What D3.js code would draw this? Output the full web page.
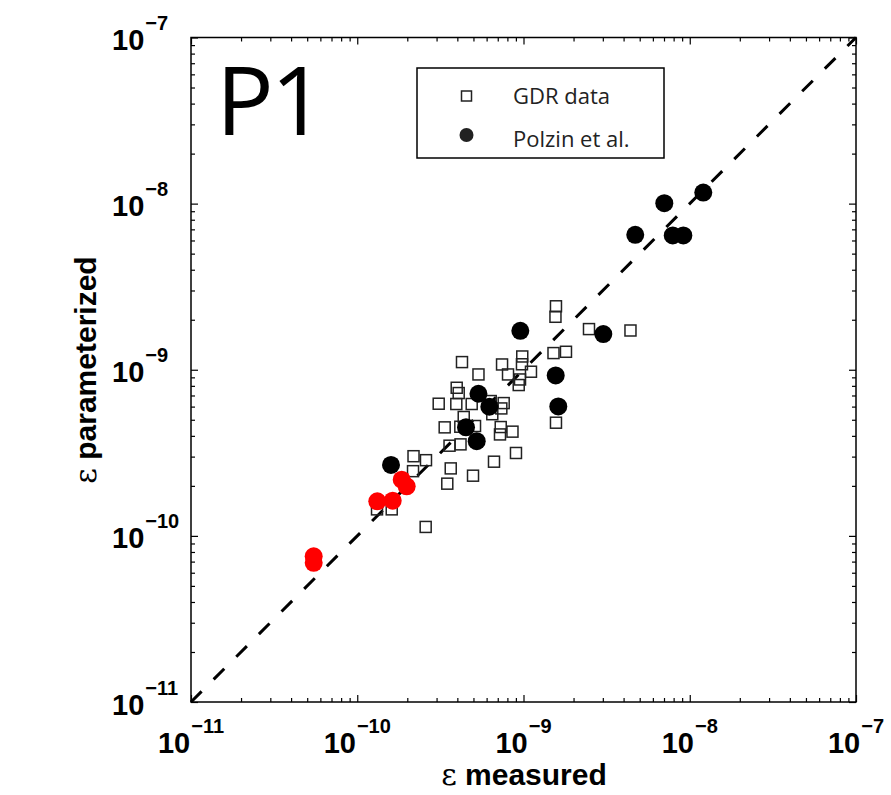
<!DOCTYPE html>
<html>
<head>
<meta charset="utf-8">
<script src="https://cdn.jsdelivr.net/npm/d3@7"></script>
<style>
  html, body { margin: 0; padding: 0; background: #fff; }
  #chart { width: 891px; height: 795px; }
</style>
</head>
<body>
<div id="chart"></div>
<script>
// GDR data (open squares)
const gdrX = [1.568e-9, 1.557e-9, 2.477e-9, 4.40e-9, 1.515e-9, 1.801e-9, 4.266e-10, 5.36e-10, 7.43e-10, 9.83e-10,
    9.79e-10, 8.07e-10, 1.109e-9, 9.53e-10, 9.36e-10, 3.965e-10, 4.076e-10, 3.09e-10, 3.943e-10, 4.88e-10,
    6.35e-10, 7.60e-10, 7.355e-10, 6.49e-10, 4.37e-10, 3.357e-10, 4.168e-10, 5.11e-10, 7.295e-10, 7.22e-10,
    8.585e-10, 1.568e-9, 3.59e-10, 4.18e-10, 9.01e-10, 6.645e-10, 2.18e-10, 2.591e-10, 2.165e-10, 3.65e-10,
    4.97e-10, 3.48e-10, 1.315e-10, 1.612e-10, 2.58e-10];
const gdrY = [2.41e-9, 2.084e-9, 1.757e-9, 1.723e-9, 1.26e-9, 1.283e-9, 1.112e-9, 9.37e-10, 1.076e-9, 1.202e-9,
    1.079e-9, 9.37e-10, 9.73e-10, 8.74e-10, 8.09e-10, 7.79e-10, 7.24e-10, 6.245e-10, 6.22e-10, 6.22e-10,
    6.48e-10, 6.30e-10, 5.85e-10, 5.40e-10, 5.195e-10, 4.50e-10, 4.54e-10, 4.585e-10, 4.52e-10, 4.08e-10,
    4.24e-10, 4.80e-10, 3.49e-10, 3.555e-10, 3.155e-10, 2.796e-10, 3.017e-10, 2.855e-10, 2.452e-10, 2.548e-10,
    2.303e-10, 2.062e-10, 1.444e-10, 1.444e-10, 1.132e-10];

// Polzin et al. (filled black circles)
const polzinX = [1.596e-10, 4.51e-10, 5.23e-10, 5.36e-10, 6.23e-10, 9.57e-10, 1.562e-9, 1.619e-9, 3.02e-9,
    4.70e-9, 7.03e-9, 7.90e-9, 9.15e-9, 1.206e-8];
const polzinY = [2.672e-10, 4.50e-10, 3.715e-10, 7.17e-10, 5.99e-10, 1.716e-9, 9.24e-10, 6.015e-10, 1.639e-9,
    6.49e-9, 1.006e-8, 6.43e-9, 6.43e-9, 1.166e-8];

// red points (not in legend)
const redX = [5.47e-11, 5.47e-11, 1.32e-10, 1.634e-10, 1.851e-10, 1.983e-10];
const redY = [7.53e-11, 6.88e-11, 1.614e-10, 1.63e-10, 2.18e-10, 1.986e-10];

// axes
const decades = [-11, -10, -9, -8, -7];
const domain = [1e-11, 1e-7];
const legendLabels = ["GDR data", "Polzin et al."];
const panelLabel = "P1";

document.addEventListener('DOMContentLoaded', function() {
    const W = 891, H = 795;
    const margin = { top: 37.5, right: 35, bottom: 93, left: 191 };
    const width = W - margin.left - margin.right;
    const height = H - margin.top - margin.bottom;

    const svg = d3.select("#chart")
        .append("svg")
        .attr("width", W)
        .attr("height", H)
        .append("g")
        .attr("transform", `translate(${margin.left},${margin.top})`);

    const x = d3.scaleLog().domain(domain).range([0, width]);
    const y = d3.scaleLog().domain(domain).range([height, 0]);

    const majors = decades.map(d => Math.pow(10, d));
    const minors = [];
    decades.slice(0, -1).forEach(d => {
        for (let m = 2; m <= 9; m++) minors.push(m * Math.pow(10, d));
    });

    // ticks on all four sides, pointing inward
    const addAxis = (axisFn, scale, vals, len, tr) => {
        const g = svg.append("g")
            .attr("transform", tr)
            .call(axisFn(scale).tickValues(vals).tickSize(len).tickFormat(""));
        g.selectAll("path").remove();
        g.selectAll("line").attr("stroke", "#000").attr("stroke-width", 1.2);
    };
    addAxis(d3.axisBottom, x, majors, -7, `translate(0,${height})`);
    addAxis(d3.axisBottom, x, minors, -4, `translate(0,${height})`);
    addAxis(d3.axisTop, x, majors, -7, "translate(0,0)");
    addAxis(d3.axisTop, x, minors, -4, "translate(0,0)");
    addAxis(d3.axisLeft, y, majors, -7, "translate(0,0)");
    addAxis(d3.axisLeft, y, minors, -4, "translate(0,0)");
    addAxis(d3.axisRight, y, majors, -7, `translate(${width},0)`);
    addAxis(d3.axisRight, y, minors, -4, `translate(${width},0)`);

    // box
    svg.append("rect")
        .attr("width", width)
        .attr("height", height)
        .attr("fill", "none")
        .attr("stroke", "#000")
        .attr("stroke-width", 1.5);

    // tick labels
    const labelFont = "'Liberation Sans', Arial, Helvetica, sans-serif";
    const xl = svg.selectAll(".x-label")
        .data(decades)
        .enter()
        .append("text")
        .attr("class", "x-label")
        .attr("x", d => x(Math.pow(10, d)))
        .attr("y", height + 51)
        .attr("text-anchor", "middle")
        .attr("font-family", labelFont)
        .attr("font-weight", "bold")
        .attr("font-size", "29px");
    xl.append("tspan").text("10");
    xl.append("tspan").attr("dx", 1).attr("dy", -20).attr("font-size", "20px").text(d => "\u2212" + (-d));

    const yl = svg.selectAll(".y-label")
        .data(decades)
        .enter()
        .append("text")
        .attr("class", "y-label")
        .attr("x", 112 - margin.left)
        .attr("y", d => y(Math.pow(10, d)) + 12.5)
        .attr("font-family", labelFont)
        .attr("font-weight", "bold")
        .attr("font-size", "29px");
    yl.append("tspan").text("10");
    yl.append("tspan").attr("dx", 1).attr("dy", -20).attr("font-size", "20px").text(d => "\u2212" + (-d));

    // axis titles
    const xt = svg.append("text")
        .attr("x", 524 - margin.left)
        .attr("y", 785 - margin.top)
        .attr("text-anchor", "middle")
        .attr("font-family", labelFont)
        .attr("font-weight", "bold")
        .attr("font-size", "30px");
    xt.append("tspan").attr("font-family", "'DejaVu Serif', serif").attr("font-weight", "normal").text("\u03b5");
    xt.append("tspan").text(" measured");

    const yt = svg.append("text")
        .attr("transform", `translate(${96 - margin.left},${370 - margin.top}) rotate(-90)`)
        .attr("text-anchor", "middle")
        .attr("font-family", labelFont)
        .attr("font-weight", "bold")
        .attr("font-size", "30px");
    yt.append("tspan").attr("font-family", "'DejaVu Serif', serif").attr("font-weight", "normal").text("\u03b5");
    yt.append("tspan").text(" parameterized");

    // 1:1 dashed line
    svg.append("line")
        .attr("x1", x(domain[0]))
        .attr("y1", y(domain[0]))
        .attr("x2", x(domain[1]))
        .attr("y2", y(domain[1]))
        .attr("stroke", "#000")
        .attr("stroke-width", 3)
        .attr("stroke-dasharray", "15,17");

    // GDR squares
    const gdr = gdrX.map((v, i) => ({ x: v, y: gdrY[i] }));
    svg.selectAll(".gdr")
        .data(gdr)
        .enter()
        .append("rect")
        .attr("class", "gdr")
        .attr("x", d => x(d.x) - 5.5)
        .attr("y", d => y(d.y) - 5.5)
        .attr("width", 11)
        .attr("height", 11)
        .attr("fill", "none")
        .attr("stroke", "#222")
        .attr("stroke-width", 1.5);

    // Polzin circles
    const polzin = polzinX.map((v, i) => ({ x: v, y: polzinY[i] }));
    svg.selectAll(".polzin")
        .data(polzin)
        .enter()
        .append("circle")
        .attr("class", "polzin")
        .attr("cx", d => x(d.x))
        .attr("cy", d => y(d.y))
        .attr("r", 9)
        .attr("fill", "#000");

    // red circles
    const red = redX.map((v, i) => ({ x: v, y: redY[i] }));
    svg.selectAll(".red")
        .data(red)
        .enter()
        .append("circle")
        .attr("class", "red")
        .attr("cx", d => x(d.x))
        .attr("cy", d => y(d.y))
        .attr("r", 9)
        .attr("fill", "#ff0000");

    // panel label
    svg.append("text")
        .attr("x", 216 - margin.left)
        .attr("y", 135 - margin.top)
        .attr("font-family", "'Open Sans', sans-serif")
        .attr("font-size", "96px")
        .attr("letter-spacing", "-3px")
        .text(panelLabel);

    // legend
    const lg = svg.append("g").attr("transform", `translate(${417 - margin.left},${68 - margin.top})`);
    lg.append("rect")
        .attr("width", 247)
        .attr("height", 90)
        .attr("fill", "#fff")
        .attr("stroke", "#000")
        .attr("stroke-width", 1.5);
    lg.append("rect")
        .attr("x", 44.5).attr("y", 23)
        .attr("width", 10).attr("height", 10)
        .attr("fill", "none").attr("stroke", "#222").attr("stroke-width", 1.5);
    lg.append("circle")
        .attr("cx", 49.5).attr("cy", 67)
        .attr("r", 7)
        .attr("fill", "#222");
    lg.selectAll(".lg-text")
        .data(legendLabels)
        .enter()
        .append("text")
        .attr("class", "lg-text")
        .attr("x", 96)
        .attr("y", (d, i) => 36 + i * 43)
        .attr("font-family", "'Open Sans', sans-serif")
        .attr("font-size", "22px")
        .attr("fill", "#222")
        .text(d => d);
});
</script>
</body>
</html>
